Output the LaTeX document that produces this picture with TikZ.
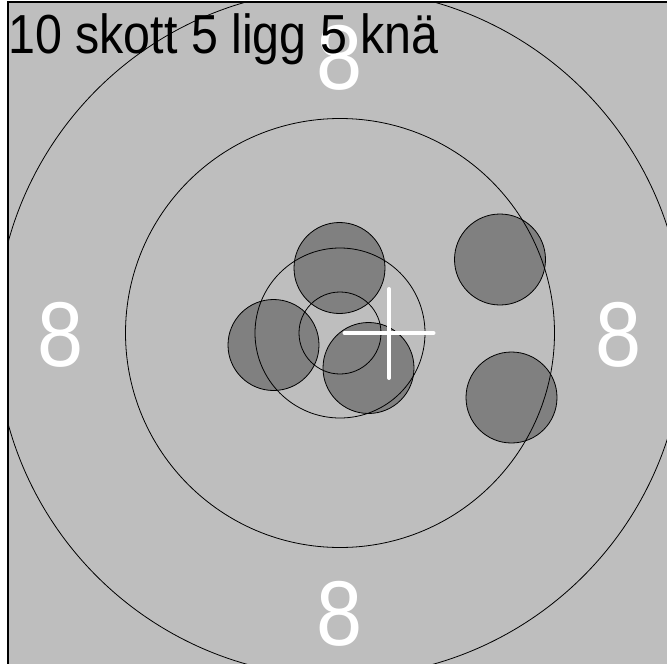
\documentclass[tikz,border=0pt]{standalone}
\usepackage{fontspec}
\setmainfont{Liberation Sans}
\usepackage{tikz}
\definecolor{targetgray}{HTML}{BEBEBE}
\definecolor{shotgray}{HTML}{808080}

\begin{document}
\begin{tikzpicture}[
    x=1pt, y=-1pt,
    ring/.style={draw=black, line width=0.8pt},
    shot/.style={fill=shotgray, draw=black, line width=0.8pt},
    ringlabel/.style={text=white, font=\fontsize{92}{92}\selectfont, inner sep=0pt, xscale=0.9, transform shape},
    aimcross/.style={draw=white, line width=4pt, line cap=round}
]
\useasboundingbox (0,0) rectangle (667,664);
\clip (0,0) rectangle (667,664);
\fill[white] (0,0) rectangle (667,664);
\draw[fill=targetgray, line width=1.5pt] (8,2) rectangle (690,690);
\coordinate (centre) at (340,333);
\begin{scope}
\clip (8.75,2.75) rectangle (690,690);
% shots
\foreach \x/\y in {339.5/268, 273.5/345, 368.5/368, 500/259.5, 511.5/397.5}
    \draw[shot] (\x,\y) circle (45.5pt);
% rings
\foreach \r in {41, 85, 214.5, 344}
    \draw[ring] (centre) circle (\r pt);
\end{scope}
% ring numbers
\node[ringlabel] (top8)    at (340,58)  {8};
\node[ringlabel] (left8)   at (61,335)  {8};
\node[ringlabel] (right8)  at (619,335) {8};
\node[ringlabel] (bottom8) at (340,614) {8};
% aiming cross
\coordinate (aimW) at (344.5,333);
\coordinate (aimE) at (433.5,333);
\coordinate (aimN) at (389,289);
\coordinate (aimS) at (389,378);
\draw[aimcross] (aimW) -- (aimE);
\draw[aimcross] (aimN) -- (aimS);
% title
\node[font=\fontsize{55}{55}\selectfont, anchor=base west, inner sep=0pt, xscale=0.88, transform shape] (title) at (8,53) {10 skott 5 ligg 5 knä};
\end{tikzpicture}
\end{document}
